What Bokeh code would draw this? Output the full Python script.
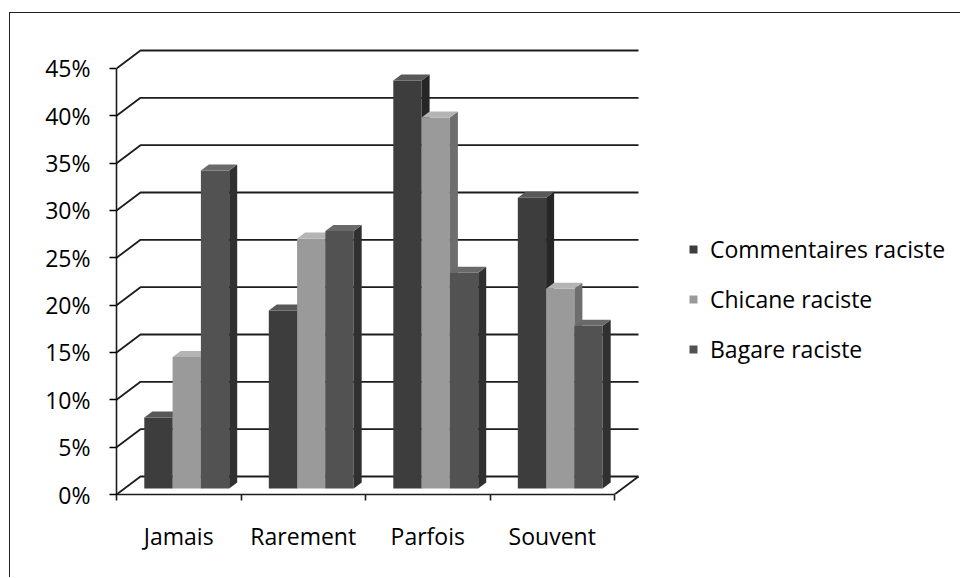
import numpy as np
from bokeh.plotting import figure
from bokeh.models import (Range1d, FixedTicker, PrintfTickFormatter, Legend, LegendItem,
                          ColumnDataSource, InlineStyleSheet)
from bokeh.embed import file_html
from bokeh.resources import INLINE

# ---- data ----
categories = ["Jamais", "Rarement", "Parfois", "Souvent"]
series_names = ["Commentaires raciste", "Chicane raciste", "Bagare raciste"]
commentaires = [7.5, 18.8, 43.1, 30.7]
chicane = [13.9, 26.4, 39.2, 21.1]
bagare = [33.6, 27.2, 22.8, 17.2]
y_ticks = [0, 5, 10, 15, 20, 25, 30, 35, 40, 45]

# ---- style / geometry ----
FONT = "Open Sans"
FS = "23px"
front_colors = ["#3d3d3d", "#9a9a9a", "#525252"]
side_colors = ["#262626", "#6e6e6e", "#303030"]
top_colors = ["#585858", "#b4b4b4", "#6a6a6a"]
PX_X = 124.5     # px per category
PX_Y = 9.467     # px per percent
DX = 24 / PX_X   # depth offset (x units)
DY = 18 / PX_Y   # depth offset (y units)
BW = 28.3 / PX_X # bar width
W, H = 953, 570
ML, MT, MB, MR = 116, 40, 76, 0
frame_w = W - ML - MR
frame_h = H - MT - MB

p = figure(width=W, height=H, output_backend="svg", toolbar_location=None,
           x_range=Range1d(0, frame_w / PX_X), y_range=Range1d(0, frame_h / PX_Y),
           min_border_left=ML, min_border_right=MR, min_border_top=MT, min_border_bottom=MB)
p.outline_line_color = None
p.xgrid.visible = False
p.ygrid.visible = False
p.background_fill_color = "white"
p.border_fill_color = "white"

ncat = len(categories)
# back wall gridlines with left wall diagonals
gx = [[0, DX, ncat + DX] for v in y_ticks]
gy = [[v, v + DY, v + DY] for v in y_ticks]
p.multi_line(gx, gy, line_color="#1c1c1c", line_width=1.8)
# floor right edge
p.line([ncat, ncat + DX], [0, DY], line_color="#1c1c1c", line_width=1.8)

# bars
all_series = [commentaires, chicane, bagare]
legend_items = []
for k, vals in enumerate(all_series):
    vals = np.array(vals, dtype=float)
    idx = np.arange(ncat)
    xc = idx + 0.5 + (k - 1) * BW + DX / 3
    xl = xc - BW / 2
    xr = xc + BW / 2
    b0 = DY / 3
    b1 = 2 * DY / 3
    src = ColumnDataSource(dict(left=xl, right=xr, bottom=np.full(ncat, b0), top=vals + b0))
    r = p.quad(left="left", right="right", bottom="bottom", top="top", source=src,
               fill_color=front_colors[k], line_color=None)
    side_xs = [[xr[i], xr[i] + DX / 3, xr[i] + DX / 3, xr[i]] for i in range(ncat)]
    side_ys = [[b0, b1, vals[i] + b1, vals[i] + b0] for i in range(ncat)]
    p.patches(side_xs, side_ys, fill_color=side_colors[k], line_color=None)
    top_xs = [[xl[i], xl[i] + DX / 3, xr[i] + DX / 3, xr[i]] for i in range(ncat)]
    top_ys = [[vals[i] + b0, vals[i] + b1, vals[i] + b1, vals[i] + b0] for i in range(ncat)]
    p.patches(top_xs, top_ys, fill_color=top_colors[k], line_color=None)
    legend_items.append(LegendItem(label=series_names[k], renderers=[r]))

# y axis (front)
ya = p.yaxis[0]
ya.ticker = FixedTicker(ticks=y_ticks)
ya.formatter = PrintfTickFormatter(format="%d%%")
ya.bounds = (0, 45)
ya.axis_line_color = "#1c1c1c"
ya.axis_line_width = 1.6
ya.major_tick_out = 7
ya.major_tick_in = 0
ya.major_tick_line_width = 1.6
ya.minor_tick_line_color = None
ya.major_label_standoff = 19
ya.major_label_text_font = FONT
ya.major_label_text_font_size = FS
ya.major_label_text_color = "black"

# x axis (front floor edge)
xa = p.xaxis[0]
centers = [i + 0.5 for i in range(ncat)]
xa.ticker = FixedTicker(ticks=centers, minor_ticks=list(range(ncat + 1)))
xa.major_label_overrides = {c: name for c, name in zip(centers, categories)}
xa.bounds = (0, ncat)
xa.axis_line_color = "#1c1c1c"
xa.axis_line_width = 1.6
xa.major_tick_line_color = None
xa.major_tick_out = 0
xa.minor_tick_out = 6
xa.minor_tick_in = 0
xa.minor_tick_line_color = "#1c1c1c"
xa.minor_tick_line_width = 1.6
xa.major_label_standoff = 19
xa.major_label_text_font = FONT
xa.major_label_text_font_size = FS
xa.major_label_text_color = "black"

legend = Legend(items=legend_items, location=(572, 129), orientation="vertical",
                glyph_width=10, glyph_height=10, label_standoff=12, spacing=18,
                padding=0, margin=0, border_line_color=None, background_fill_alpha=0,
                label_text_font=FONT, label_text_font_size=FS, label_text_color="black")
p.add_layout(legend)

# chart area border (top and left edges visible in the reference)
p.stylesheets = [InlineStyleSheet(css=(
    ":host::after { content: ''; position: absolute; left: 9px; top: 12px; right: -7px; bottom: -7px;"
    " border-left: 1.6px solid #222; border-top: 1.6px solid #222; pointer-events: none; }"
))]

open("out.html", "w").write(file_html(p, INLINE))
